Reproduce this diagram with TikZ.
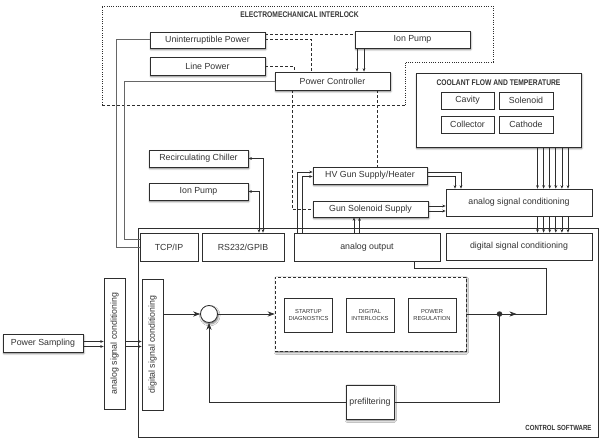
\documentclass[tikz,border=0pt]{standalone}
\usepackage{fontspec}
\setmainfont{Liberation Sans}
\newfontfamily\cond[FakeStretch=0.82]{Liberation Sans}
\usepackage{graphicx}
\usetikzlibrary{arrows.meta,shadows.blur,calc}
\definecolor{ink}{HTML}{2E2E2E}
\definecolor{txt}{HTML}{333333}
\definecolor{gwire}{HTML}{666666}
\begin{document}
\begin{tikzpicture}[x=1pt,y=-1pt,
  shad/.style={blur shadow={shadow xshift=0.8pt, shadow yshift=-1.6pt, shadow blur radius=1.8pt, shadow opacity=55}},
  box/.style={draw=ink, fill=white, line width=0.8pt, inner sep=0pt, shad, text=txt, font=\fontsize{8.8}{10}\selectfont},
  pbox/.style={draw=ink, fill=white, line width=0.7pt, inner sep=0pt, text=txt, font=\fontsize{8.8}{10}\selectfont},
  sbox/.style={draw=ink, fill=white, line width=0.7pt, inner sep=0pt, text=txt, align=center, minimum width=48pt, minimum height=34pt, font=\fontsize{5.8}{7.2}\selectfont},
  wire/.style={draw=ink, line width=0.7pt},
  gw/.style={draw=gwire, line width=0.9pt},
  arr/.style={wire, -{Stealth[length=3.4pt,width=2.8pt]}},
  barr/.style={wire, {Stealth[length=3.4pt,width=2.8pt]}-{Stealth[length=3.4pt,width=2.8pt]}},
  bigarr/.style={wire, -{Stealth[length=7pt,width=5.2pt,inset=2.3pt]}},
  dsh/.style={draw=ink, line width=0.75pt, dash pattern=on 3pt off 2pt},
  dotl/.style={draw=ink, line width=0.75pt, dash pattern=on 1pt off 1.3pt},
  title/.style={text=txt, font=\cond\bfseries\fontsize{8.2}{9}\selectfont},
]
\useasboundingbox (0,0) rectangle (604,441);

% ---------- interlock outline ----------
\draw[dotl] (102,105) -- (102,6) -- (493,6) -- (493,62) -- (405,62) -- (405,105);
\draw[dsh] (102,105) -- (405,105);
\node[title] (ilt) at (299.5,15) {ELECTROMECHANICAL INTERLOCK};

% ---------- control software frame ----------
\node[draw=ink, line width=0.8pt, fill=white, minimum width=460pt, minimum height=209pt, inner sep=0pt] (cs) at (368,332.5) {};
\node[title, anchor=east, font=\cond\bfseries\fontsize{7.4}{8}\selectfont] (cst) at (595,428) {CONTROL SOFTWARE};

% ---------- top boxes ----------
\node[box, minimum width=115pt, minimum height=16pt] (up) at (207.5,40) {Uninterruptible Power};
\node[box, minimum width=115pt, minimum height=18pt] (lp) at (207.5,66) {Line Power};
\node[box, minimum width=115pt, minimum height=17pt] (ip1) at (412.5,39.5) {Ion Pump};
\node[box, minimum width=115pt, minimum height=18pt] (pc) at (332.5,81) {Power Controller};

% coolant
\node[box, minimum width=165pt, minimum height=74pt] (cool) at (498.5,110) {};
\node[title] (coolt) at (498.5,83) {COOLANT FLOW AND TEMPERATURE};
\node[pbox, minimum width=53pt, minimum height=17pt] (cav) at (467.5,100.5) {Cavity};
\node[pbox, minimum width=54pt, minimum height=17pt] (sol) at (526,100.5) {Solenoid};
\node[pbox, minimum width=53pt, minimum height=17pt] (col) at (467.5,124.5) {Collector};
\node[pbox, minimum width=54pt, minimum height=17pt] (cat) at (526,124.5) {Cathode};

% middle boxes
\node[box, minimum width=99pt, minimum height=17pt] (rc) at (198.5,158.5) {Recirculating Chiller};
\node[box, minimum width=99pt, minimum height=17pt] (ip2) at (198.5,191.5) {Ion Pump};
\node[box, minimum width=114pt, minimum height=17pt] (hv) at (370,175.5) {HV Gun Supply/Heater};
\node[box, minimum width=115pt, minimum height=16pt] (gss) at (370.5,209) {Gun Solenoid Supply};
\node[pbox, minimum width=146pt, minimum height=27pt] (asc) at (519,202.5) {analog signal conditioning};

% interface row
\node[pbox, minimum width=58pt, minimum height=28pt] (tcp) at (169,247) {TCP/IP};
\node[pbox, minimum width=82pt, minimum height=28pt] (rs) at (243,247) {RS232/GPIB};
\node[pbox, minimum width=146pt, minimum height=28pt] (ao) at (367,247) {analog output};
\node[pbox, minimum width=146pt, minimum height=27pt] (dsc) at (519,246.5) {digital signal conditioning};

% left chain
\node[box, minimum width=80pt, minimum height=18pt] (ps) at (43,343) {Power Sampling};
\node[pbox, minimum width=21pt, minimum height=131pt] (ascv) at (114.5,343.5) {\rotatebox{90}{analog signal conditioning}};
\node[pbox, minimum width=21pt, minimum height=131pt] (dscv) at (152.5,344.5) {\rotatebox{90}{digital signal conditioning}};

% loop
\node[circle, draw=ink, fill=white, line width=0.8pt, minimum size=17pt, inner sep=0pt, shad] (sum) at (209,314) {};
\node[draw=ink, fill=white, line width=0.8pt, dash pattern=on 3pt off 2pt, minimum width=191pt, minimum height=74pt, inner sep=0pt, shad] (dash) at (370.5,314) {};
\node[sbox] (sd) at (308.5,315) {STARTUP\\DIAGNOSTICS};
\node[sbox] (di) at (370,315) {DIGITAL\\INTERLOCKS};
\node[sbox] (pr) at (432,315) {POWER\\REGULATION};
\node[box, minimum width=48pt, minimum height=34pt] (pf) at (370,402) {prefiltering};
\node[circle, fill=ink, minimum size=5.5pt, inner sep=0pt] (dot) at (499.5,314) {};
\coordinate (c1) at (546,314);
\coordinate (c2) at (546,268);

% ---------- connectors ----------
% to TCP/IP
\draw[gw] ([yshift=1pt]up.west) -- ++(-33,0) |- (tcp.west);
\draw[gw] (pc.west) -- ++(-150,0) |- ([yshift=8pt]tcp.west);

% ion pump -> power controller
\draw[arr] ([xshift=-55.5pt]ip1.south) -- ([xshift=24.5pt]pc.north);
\draw[arr] ([xshift=-48.5pt]ip1.south) -- ([xshift=31.5pt]pc.north);

% dashed power links
\draw[dsh] ([yshift=6pt]up.east) -- ([yshift=5.5pt]ip1.west);
\draw[dsh] ([yshift=1pt]up.east) -| ([xshift=-21.5pt]pc.north);
\draw[dsh] (lp.east) -| ([xshift=-38.5pt]pc.north);
\draw[dsh] ([xshift=-40.5pt]pc.south) |- (gss.west);
\draw[dsh] ([xshift=45pt]pc.south) -- ([xshift=7.5pt]hv.north);

% RS232 links
\draw[barr] ([xshift=20pt]rs.north) |- (rc.east);
\draw[barr] ([xshift=16pt]rs.north) |- (ip2.east);

% analog output -> supplies
\draw[arr] ([xshift=-70pt]ao.north) |- ([yshift=3.5pt]hv.west);
\draw[arr] ([xshift=-65pt]ao.north) |- ([yshift=-1pt]hv.west);
\draw[arr] ([xshift=-13pt]ao.north) -- ([xshift=-16.5pt]gss.south);
\draw[arr] ([xshift=-7.5pt]ao.north) -- ([xshift=-11pt]gss.south);

% supplies -> analog signal conditioning
\draw[arr] ([yshift=3.5pt]hv.east) -| ([xshift=-58pt]asc.north);
\draw[arr] ([yshift=-1pt]hv.east) -| ([xshift=-64pt]asc.north);
\draw[arr] ([yshift=3pt]gss.east) -- ([yshift=-3.5pt]asc.west);
\draw[arr] ([yshift=-2pt]gss.east) -- ([yshift=-8.5pt]asc.west);

% coolant -> asc -> dsc
\foreach \i in {0,...,5} {
  \pgfmathsetmacro{\dx}{6.1*\i}
  \draw[arr] ([xshift=39pt+\dx pt]cool.south) -- ([xshift=18.5pt+\dx pt]asc.north);
  \draw[arr] ([xshift=18.5pt+\dx pt]asc.south) -- ([xshift=18.5pt+\dx pt]dsc.north);
}

% power sampling chain
\draw[arr] ([yshift=1.5pt]ps.east) -- ([yshift=2pt]ascv.west);
\draw[arr] ([yshift=-3.5pt]ps.east) -- ([yshift=-3pt]ascv.west);
\draw[arr] ([yshift=2pt]ascv.east) -- ([yshift=3pt]dscv.west);
\draw[arr] ([yshift=-3pt]ascv.east) -- ([yshift=-2pt]dscv.west);

% control loop
\draw[bigarr] ([yshift=30.5pt]dscv.east) -- (sum.west);
\draw[bigarr] (sum.east) -- (dash.west);
\draw[wire] (dash.east) -- (c1) -- (c2) -| ([xshift=47pt]ao.south);
\draw[bigarr] (dot.center) -- ($(dot.center)+(17,0)$);
\draw[wire] (dot.center) |- (pf.east);
\draw[bigarr] (pf.west) -| (sum.south);
\end{tikzpicture}
\end{document}
